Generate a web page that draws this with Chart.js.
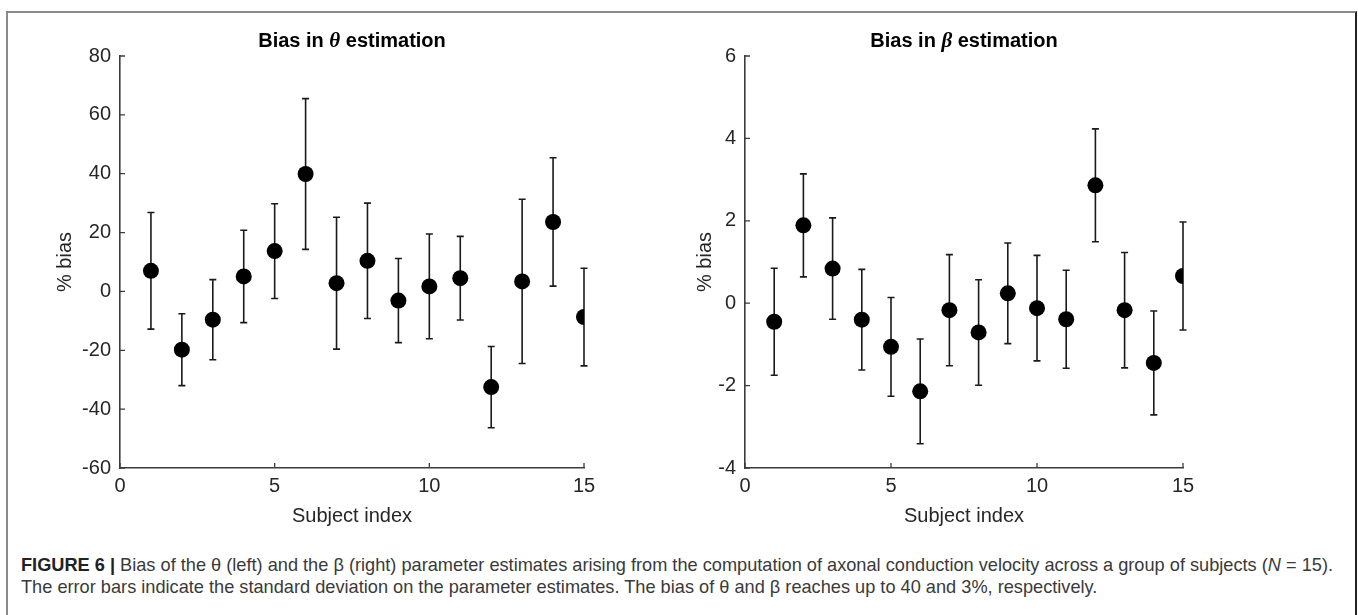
<!DOCTYPE html>
<html>
<head>
<meta charset="utf-8">
<script src="https://cdn.jsdelivr.net/npm/chart.js@4.4.1/dist/chart.umd.min.js"></script>
<style>
  html, body { margin: 0; padding: 0; background: #fff; }
  body { width: 1358px; height: 615px; position: relative; overflow: hidden; }
  .frame {
    position: absolute; left: 6px; top: 11px; width: 1347px; height: 640px;
    border-top: 2px solid #8a8a8a; border-left: 2px solid #8a8a8a; border-right: 2px solid #222;
  }
  canvas { position: absolute; top: 0; }
  #thetaChart { left: 0; }
  #betaChart { left: 680px; }
  .caption {
    position: absolute; left: 21px; color: #3a3a3a; white-space: nowrap;
    font-family: "Liberation Sans", Arial, sans-serif; font-size: 18.2px;
  }
  .caption b { color: #222; }
</style>
</head>
<body>
<div class="frame"></div>
<canvas id="thetaChart" width="680" height="540"></canvas>
<canvas id="betaChart" width="678" height="540"></canvas>
<div class="caption" style="top:555px"><b>FIGURE 6 |</b> Bias of the θ (left) and the β (right) parameter estimates arising from the computation of axonal conduction velocity across a group of subjects (<i>N</i> = 15).</div>
<div class="caption" style="top:577px">The error bars indicate the standard deviation on the parameter estimates. The bias of θ and β reaches up to 40 and 3%, respectively.</div>
<script>
const subjects = [1, 2, 3, 4, 5, 6, 7, 8, 9, 10, 11, 12, 13, 14, 15];
const thetaBias = [7.0, -19.8, -9.6, 5.1, 13.7, 39.9, 2.8, 10.4, -3.1, 1.7, 4.5, -32.5, 3.4, 23.6, -8.7];
const thetaSd = [19.8, 12.2, 13.6, 15.7, 16.1, 25.6, 22.4, 19.6, 14.3, 17.8, 14.2, 13.8, 27.9, 21.8, 16.6];
const betaBias = [-0.45, 1.89, 0.84, -0.40, -1.06, -2.14, -0.17, -0.71, 0.24, -0.12, -0.39, 2.86, -0.17, -1.45, 0.66];
const betaSd = [1.3, 1.25, 1.23, 1.22, 1.2, 1.27, 1.35, 1.28, 1.22, 1.28, 1.19, 1.37, 1.4, 1.26, 1.31];
const xTicks = [0, 5, 10, 15];
const thetaTicks = [-60, -40, -20, 0, 20, 40, 60, 80];
const betaTicks = [-4, -2, 0, 2, 4, 6];

const axisColor = "#3c3c3c";
const textColor = "#262626";
const sans = "'Liberation Sans', Arial, sans-serif";

// vertical error bars (mean +- sd) with small caps
const errorBars = {
  id: "errorBars",
  beforeDatasetsDraw(chart, args, opts) {
    const { ctx, scales: { x, y } } = chart;
    ctx.save();
    ctx.strokeStyle = "#1a1a1a";
    ctx.lineWidth = 1.6;
    opts.means.forEach((m, i) => {
      const px = x.getPixelForValue(opts.xs[i]);
      const top = y.getPixelForValue(m + opts.sd[i]);
      const bot = y.getPixelForValue(m - opts.sd[i]);
      ctx.beginPath();
      ctx.moveTo(px, top); ctx.lineTo(px, bot);
      ctx.moveTo(px - 3.5, top); ctx.lineTo(px + 3.5, top);
      ctx.moveTo(px - 3.5, bot); ctx.lineTo(px + 3.5, bot);
      ctx.stroke();
    });
    ctx.restore();
  },
};

// matlab style ticks pointing into the plot
const innerTicks = {
  id: "innerTicks",
  afterDraw(chart) {
    const { ctx, chartArea: a, scales: { x, y } } = chart;
    ctx.save();
    ctx.strokeStyle = axisColor;
    ctx.lineWidth = 1.3;
    ctx.beginPath();
    y.ticks.forEach((t) => {
      const py = y.getPixelForValue(t.value);
      ctx.moveTo(a.left, py); ctx.lineTo(a.left + 5, py);
    });
    x.ticks.forEach((t) => {
      const px = x.getPixelForValue(t.value);
      ctx.moveTo(px, a.bottom); ctx.lineTo(px, a.bottom - 5);
    });
    ctx.stroke();
    ctx.restore();
  },
};

// title with a greek symbol in bold italic serif
const mixedTitle = {
  id: "mixedTitle",
  afterDraw(chart, args, opts) {
    const { ctx, chartArea: a } = chart;
    const parts = [
      { t: "Bias in ", f: "bold 20px " + sans },
      { t: opts.symbol, f: "italic bold 21px 'Liberation Serif', 'Times New Roman', serif" },
      { t: " estimation", f: "bold 20px " + sans },
    ];
    ctx.save();
    ctx.fillStyle = "#000";
    ctx.textBaseline = "alphabetic";
    let w = 0;
    parts.forEach((p) => { ctx.font = p.f; p.w = ctx.measureText(p.t).width; w += p.w; });
    let px = (a.left + a.right) / 2 - w / 2;
    parts.forEach((p) => { ctx.font = p.f; ctx.fillText(p.t, px, 47); px += p.w; });
    ctx.restore();
  },
};

function makeChart(id, means, sd, yMin, yMax, yStep, yTicks, yWidth, yTitlePad, padRight, symbol) {
  return new Chart(document.getElementById(id), {
    type: "scatter",
    data: {
      datasets: [{
        data: subjects.map((s, i) => ({ x: s, y: means[i] })),
        pointRadius: 8,
        pointHoverRadius: 8,
        backgroundColor: "#000",
        borderWidth: 0,
      }],
    },
    options: {
      responsive: false,
      animation: false,
      events: [],
      layout: { padding: { left: 0, top: 56, right: padRight, bottom: 0 } },
      plugins: {
        legend: { display: false },
        tooltip: { enabled: false },
        errorBars: { xs: subjects, means: means, sd: sd },
        mixedTitle: { symbol: symbol },
      },
      scales: {
        x: {
          type: "linear",
          min: 0, max: 15,
          afterBuildTicks: (s) => { s.ticks = xTicks.map((v) => ({ value: v })); },
          afterFit: (s) => { s.height = 72; },
          grid: { display: false, drawTicks: false },
          border: { display: true, color: axisColor, width: 1.6 },
          ticks: { color: textColor, padding: 6, font: { family: sans, size: 20 } },
          title: {
            display: true, text: "Subject index", color: textColor,
            font: { family: sans, size: 20 }, padding: { top: 0, bottom: 12 },
          },
        },
        y: {
          type: "linear",
          min: yMin, max: yMax,
          afterBuildTicks: (s) => { s.ticks = yTicks.map((v) => ({ value: v })); },
          afterFit: (s) => { s.width = yWidth; },
          grid: { display: false, drawTicks: false },
          border: { display: true, color: axisColor, width: 1.6 },
          ticks: { color: textColor, padding: 9, font: { family: sans, size: 20 } },
          title: {
            display: true, text: "% bias", color: textColor,
            font: { family: sans, size: 20 }, padding: { top: yTitlePad, bottom: 0 },
          },
        },
      },
    },
    plugins: [errorBars, innerTicks, mixedTitle],
  });
}

makeChart("thetaChart", thetaBias, thetaSd, -60, 80, 20, thetaTicks, 120, 53, 96, "θ");
makeChart("betaChart", betaBias, betaSd, -4, 6, 2, betaTicks, 65, 13, 175, "β");
</script>
</body>
</html>
